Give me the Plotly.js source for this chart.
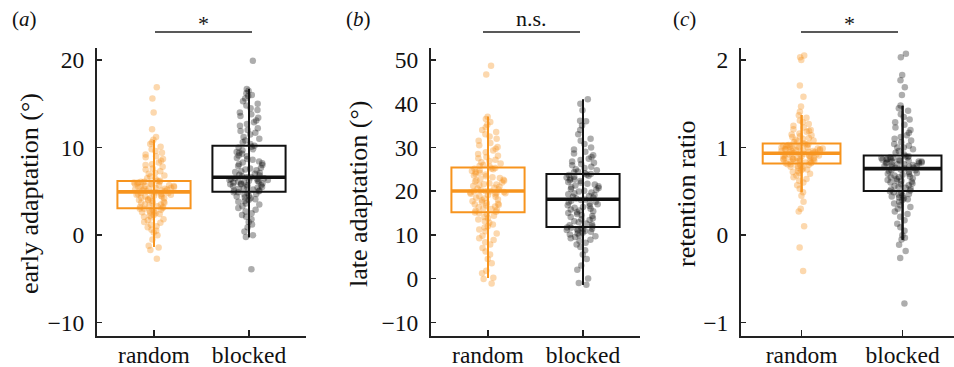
<!DOCTYPE html>
<html>
<head>
<meta charset="utf-8">
<script src="https://cdn.plot.ly/plotly-3.0.1.min.js"></script>
<style>html,body{margin:0;padding:0;background:#fff;}#chart{width:954px;height:367px;}</style>
</head>
<body>
<div id="chart"></div>
<script>
// ---------------- data ----------------
const categories = ['random', 'blocked'];
const panelLabels = ['a', 'b', 'c'];
const yTitles = ['early adaptation (°)', 'late adaptation (°)', 'retention ratio'];
const sigLabels = ['*', 'n.s.', '*'];

// early adaptation (deg)
const earlyRandom = [-2.7,-1.7,-1.4,-1.2,-0.5,0.0,0.3,0.5,0.6,0.9,1.0,1.2,1.4,1.5,1.7,1.8,2.0,2.1,2.2,2.3,2.4,2.5,2.6,2.6,2.7,2.8,2.9,2.9,3.0,3.0,
 3.1,3.2,3.2,3.3,3.4,3.5,3.5,3.6,3.7,3.7,3.8,3.9,4.0,4.0,4.1,4.2,4.2,4.3,4.4,4.4,4.5,4.5,4.6,4.6,4.7,4.7,4.8,4.8,4.9,4.9,
 5.0,5.0,5.1,5.1,5.2,5.2,5.3,5.3,5.4,5.4,5.5,5.5,5.6,5.6,5.7,5.7,5.8,5.8,5.9,5.9,6.0,6.0,6.0,6.1,6.1,6.1,6.2,6.2,5.5,5.3,
 6.4,6.5,6.7,6.8,7.0,7.1,7.3,7.5,7.6,7.8,8.0,8.1,8.3,8.5,8.7,8.9,9.0,9.2,9.4,9.6,9.8,10.1,10.4,10.6,10.9,11.2,12.1,14.0,15.6,16.9];
const earlyBlocked = [-3.9,-0.2,0.0,0.4,0.9,1.2,1.5,1.8,2.1,2.3,2.5,2.7,2.9,3.1,3.3,3.5,3.6,3.8,3.9,4.0,4.1,4.2,4.3,4.4,4.5,4.6,4.7,4.8,4.9,4.9,
 5.0,5.1,5.1,5.2,5.3,5.3,5.4,5.5,5.5,5.6,5.7,5.7,5.8,5.8,5.9,5.9,6.0,6.0,6.1,6.1,6.2,6.2,6.3,6.3,6.4,6.4,6.5,6.5,6.6,6.6,
 6.7,6.8,6.9,7.0,7.1,7.2,7.3,7.4,7.5,7.6,7.7,7.9,8.0,8.1,8.2,8.3,8.4,8.6,8.7,8.8,9.0,9.1,9.3,9.4,9.5,9.7,9.8,10.0,10.1,10.2,
 10.4,10.6,10.8,11.0,11.2,11.5,11.7,11.9,12.0,12.2,12.5,12.7,12.9,13.1,13.4,13.6,13.8,14.0,14.3,14.5,14.8,15.0,15.3,15.6,15.9,16.2,16.5,16.7,16.0,19.9];
const earlyQ1 = [3.08, 4.94];
const earlyMed = [4.94, 6.61];
const earlyQ3 = [6.19, 10.22];
const earlyLo = [-1.37, -0.23];
const earlyHi = [10.87, 16.68];

// late adaptation (deg)
const lateRandom = [-1.1,-0.1,0.2,1.2,1.8,3.5,4.5,5.5,6.2,7.0,7.8,8.3,8.8,9.2,9.8,10.3,10.8,11.2,11.7,12.0,12.4,12.8,13.1,13.5,13.8,14.1,14.4,14.7,15.0,15.1,
 15.3,15.5,15.7,15.9,16.1,16.3,16.5,16.7,16.9,17.1,17.3,17.5,17.7,17.9,18.1,18.3,18.5,18.7,18.9,19.1,19.3,19.4,19.5,19.6,19.7,19.8,19.9,20.0,20.0,17.0,
 20.2,20.4,20.6,20.8,21.0,21.2,21.4,21.6,21.8,22.0,22.2,22.4,22.6,22.8,23.0,23.2,23.4,23.6,23.8,24.0,24.2,24.4,24.6,24.8,25.0,25.1,25.2,25.3,21.5,22.5,
 25.6,25.8,26.0,26.3,26.6,26.9,27.2,27.5,27.8,28.1,28.5,28.9,29.3,29.7,30.1,30.5,31.0,31.5,32.0,32.5,33.0,33.5,34.0,34.6,35.2,35.8,36.5,37.0,46.7,48.7];
const lateBlocked = [-1.4,-1.0,0.0,2.0,3.0,4.5,5.5,6.5,7.2,7.8,8.2,8.6,8.9,9.2,9.5,9.7,9.9,10.1,10.3,10.5,10.7,10.9,11.0,11.1,11.2,11.3,11.4,11.5,11.6,11.7,
 12.0,12.2,12.4,12.6,12.9,13.1,13.4,13.6,13.8,14.1,14.3,14.5,14.8,15.0,15.2,15.4,15.6,15.8,16.0,16.2,16.4,16.6,16.8,17.0,17.2,17.4,17.6,17.8,18.0,18.1,
 18.3,18.5,18.7,18.9,19.1,19.3,19.5,19.7,19.9,20.1,20.3,20.5,20.7,20.9,21.1,21.3,21.5,21.7,21.9,22.1,22.3,22.5,22.7,22.9,23.1,23.3,23.5,23.7,23.8,23.9,
 24.1,24.3,24.5,24.8,25.0,25.3,25.6,25.9,26.2,26.5,26.8,27.1,27.4,27.8,28.2,28.6,29.0,29.5,30.0,30.8,31.5,32.0,33.0,34.0,35.0,36.0,36.1,38.5,40.0,41.0];
const lateQ1 = [15.2, 11.8];
const lateMed = [20.05, 18.15];
const lateQ3 = [25.4, 23.9];
const lateLo = [0.15, -1.4];
const lateHi = [37.0, 40.95];

// retention ratio
const retRandom = [-0.41,-0.14,0.10,0.27,0.30,0.38,0.45,0.49,0.53,0.57,0.60,0.62,0.64,0.66,0.68,0.70,0.71,0.72,0.73,0.74,0.75,0.76,0.77,0.78,0.78,0.79,0.80,0.80,0.81,0.81,
 0.82,0.82,0.83,0.83,0.84,0.84,0.85,0.85,0.86,0.86,0.87,0.87,0.88,0.88,0.89,0.89,0.90,0.90,0.91,0.91,0.92,0.92,0.93,0.93,0.86,0.88,0.90,0.84,0.92,0.87,
 0.94,0.94,0.95,0.95,0.96,0.96,0.97,0.97,0.98,0.98,0.99,0.99,1.00,1.00,1.01,1.01,1.02,1.02,1.03,1.03,1.04,1.04,0.96,0.98,1.00,1.02,0.95,0.97,0.99,1.01,
 1.05,1.06,1.07,1.08,1.09,1.10,1.11,1.12,1.13,1.14,1.15,1.16,1.18,1.19,1.21,1.23,1.25,1.27,1.29,1.31,1.34,1.37,1.41,1.47,1.58,1.71,2.00,2.03,2.05,1.20];
const retBlocked = [-0.78,-0.26,-0.18,-0.11,-0.05,-0.03,0.00,0.05,0.09,0.13,0.17,0.21,0.24,0.27,0.30,0.32,0.34,0.36,0.38,0.40,0.41,0.42,0.43,0.44,0.45,0.46,0.47,0.48,0.49,0.50,
 0.51,0.52,0.53,0.54,0.55,0.56,0.57,0.58,0.59,0.60,0.61,0.62,0.63,0.64,0.65,0.66,0.67,0.68,0.69,0.70,0.71,0.72,0.73,0.74,0.75,0.76,0.62,0.66,0.70,0.74,
 0.77,0.77,0.78,0.78,0.79,0.79,0.80,0.80,0.81,0.81,0.82,0.82,0.83,0.83,0.84,0.84,0.85,0.85,0.86,0.86,0.87,0.87,0.88,0.88,0.89,0.89,0.90,0.90,0.84,0.86,
 0.92,0.94,0.96,0.98,1.00,1.02,1.04,1.06,1.08,1.10,1.12,1.14,1.17,1.20,1.23,1.26,1.29,1.32,1.35,1.38,1.42,1.45,1.48,1.60,1.69,1.77,1.83,2.03,2.07,1.00];
const retQ1 = [0.817, 0.505];
const retMed = [0.935, 0.76];
const retQ3 = [1.045, 0.908];
const retLo = [0.49, -0.054];
const retHi = [1.372, 1.478];

// tick labels
const yTicks = [[-10, 0, 10, 20], [-10, 0, 10, 20, 30, 40, 50], [-1, 0, 1, 2]];
const yTickText = [['−10','0','10','20'], ['−10','0','10','20','30','40','50'], ['−1','0','1','2']];

// ---------------- styling / layout ----------------
const W = 954, H = 367;
const FONT = 'Liberation Serif, Times New Roman, serif';
const lineColors = ['rgb(247,148,30)', 'rgb(17,17,17)'];
const ptColors = ['rgba(247,148,30,0.36)', 'rgba(0,0,0,0.32)'];
const BW = 0.77;

const panels = [
  {pts: [earlyRandom, earlyBlocked], q1: earlyQ1, med: earlyMed, q3: earlyQ3, lo: earlyLo, hi: earlyHi,
   xdom: [97, 306], xr: [-0.6, 1.6], yr: [-11.52, 21.37], title: 29, lab: 24.5, sig: [155, 252]},
  {pts: [lateRandom, lateBlocked], q1: lateQ1, med: lateMed, q3: lateQ3, lo: lateLo, hi: lateHi,
   xdom: [431, 640], xr: [-0.6, 1.6], yr: [-13.13, 52.74], title: 358, lab: 358.5, sig: [483, 580]},
  {pts: [retRandom, retBlocked], q1: retQ1, med: retMed, q3: retQ3, lo: retLo, hi: retHi,
   xdom: [741, 954], xr: [-0.6, 1.509], yr: [-1.152, 2.137], title: 686, lab: 684, sig: [801, 898]}
];

const traces = [];
const layout = {
  width: W, height: H,
  margin: {l: 0, r: 0, t: 0, b: 0},
  paper_bgcolor: '#fff', plot_bgcolor: '#fff',
  showlegend: false,
  font: {family: FONT, color: '#111', size: 23.5},
  annotations: [], shapes: []
};
const yDom = [(H - 336) / H, (H - 48) / H];

panels.forEach((p, k) => {
  const sfx = k ? String(k + 1) : '';
  const xa = 'x' + sfx, ya = 'y' + sfx;
  for (let i = 0; i < 2; i++) {
    traces.push({
      type: 'box', y: p.pts[i], x0: i, width: BW,
      boxpoints: 'all', jitter: 0.55, pointpos: 0,
      line: {width: 0, color: 'rgba(0,0,0,0)'}, fillcolor: 'rgba(0,0,0,0)',
      marker: {color: ptColors[i], size: 6.5, line: {width: 0}},
      hoverinfo: 'skip', xaxis: xa, yaxis: ya
    });
  }
  for (let i = 0; i < 2; i++) {
    traces.push({
      type: 'box', x: [i], q1: [p.q1[i]], median: [p.med[i]], q3: [p.q3[i]],
      lowerfence: [p.lo[i]], upperfence: [p.hi[i]],
      width: BW, whiskerwidth: 0, boxpoints: false,
      line: {color: lineColors[i], width: 2}, fillcolor: 'rgba(0,0,0,0)',
      hoverinfo: 'skip', xaxis: xa, yaxis: ya
    });
    traces.push({
      type: 'scatter', mode: 'lines', x: [i, i], y: [p.lo[i], p.hi[i]],
      line: {color: lineColors[i], width: 2}, hoverinfo: 'skip', xaxis: xa, yaxis: ya
    });
    traces.push({
      type: 'scatter', mode: 'lines', x: [i - BW / 2, i + BW / 2], y: [p.med[i], p.med[i]],
      line: {color: lineColors[i], width: 3.6}, hoverinfo: 'skip', xaxis: xa, yaxis: ya
    });
  }
  layout['xaxis' + sfx] = {
    domain: [p.xdom[0] / W, p.xdom[1] / W], range: p.xr, anchor: ya,
    tickvals: [0, 1], ticktext: categories, ticks: 'inside', ticklen: 6, tickwidth: 1.5, tickcolor: '#222',
    showline: true, linewidth: 2, linecolor: '#222', showgrid: false, zeroline: false,
    tickfont: {family: FONT, size: 23.5, color: '#111'}, ticklabelstandoff: -3, fixedrange: true
  };
  layout['yaxis' + sfx] = {
    domain: yDom, range: p.yr, anchor: xa,
    tickvals: yTicks[k], ticktext: yTickText[k], ticks: 'inside', ticklen: 5, tickwidth: 1.5, tickcolor: '#222',
    showline: true, linewidth: 2, linecolor: '#222', showgrid: false, zeroline: false,
    tickfont: {family: FONT, size: 23.5, color: '#111'}, ticklabelstandoff: 6, fixedrange: true
  };
  // y title
  layout.annotations.push({
    xref: 'paper', yref: 'paper', x: p.title / W, y: 1 - 194 / H, xanchor: 'center', yanchor: 'middle',
    text: yTitles[k], textangle: -90, showarrow: false, font: {family: FONT, size: 26, color: '#111'}
  });
  // panel label
  layout.annotations.push({
    xref: 'paper', yref: 'paper', x: p.lab / W, y: 1 - 19 / H, xanchor: 'center', yanchor: 'middle',
    text: '(<i>' + panelLabels[k] + '</i>)', showarrow: false, font: {family: FONT, size: 21, color: '#111'}
  });
  // significance
  layout.shapes.push({
    type: 'line', xref: 'paper', yref: 'paper', x0: p.sig[0] / W, x1: p.sig[1] / W,
    y0: 1 - 32 / H, y1: 1 - 32 / H, line: {color: '#222', width: 1.5}
  });
  layout.annotations.push({
    xref: 'paper', yref: 'paper', x: (p.sig[0] + p.sig[1]) / 2 / W, y: 1 - (sigLabels[k] === '*' ? 24 : 18) / H,
    xanchor: 'center', yanchor: 'middle',
    text: sigLabels[k], showarrow: false, font: {family: FONT, size: 22, color: '#111'}
  });
});

Plotly.newPlot('chart', traces, layout, {staticPlot: true, displayModeBar: false});
</script>
</body>
</html>
